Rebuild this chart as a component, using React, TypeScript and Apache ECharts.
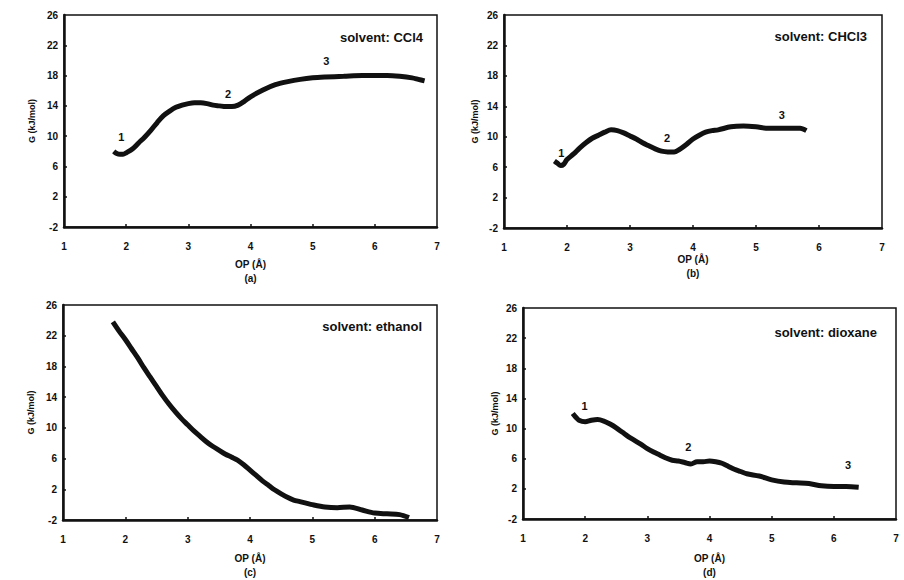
import React, { useEffect, useRef } from "react";
import * as echarts from "echarts";

// ---- data ----
const panelTitles = ["solvent: CCl4", "solvent: CHCl3", "solvent: ethanol", "solvent: dioxane"];
const panelTags = ["(a)", "(b)", "(c)", "(d)"];
const yTicks = [-2, 2, 6, 10, 14, 18, 22, 26];
const xTicks = [1, 2, 3, 4, 5, 6, 7];

const ccl4: [number, number][] = [
  [1.8, 8.0], [1.85, 7.7], [1.9, 7.6], [1.95, 7.6], [2.0, 7.8], [2.1, 8.3], [2.2, 9.1], [2.3, 9.9],
  [2.4, 10.8], [2.5, 11.8], [2.6, 12.7], [2.7, 13.3], [2.8, 13.8], [2.9, 14.1], [3.0, 14.3], [3.1, 14.4],
  [3.2, 14.4], [3.3, 14.3], [3.4, 14.1], [3.5, 14.0], [3.6, 13.9], [3.7, 13.9], [3.8, 14.1], [3.9, 14.6],
  [4.0, 15.2], [4.2, 16.1], [4.4, 16.8], [4.6, 17.2], [4.8, 17.5], [5.0, 17.7], [5.2, 17.8], [5.5, 17.9],
  [5.8, 18.0], [6.0, 18.0], [6.2, 18.0], [6.4, 17.9], [6.6, 17.7], [6.7, 17.5], [6.8, 17.3],
];
const chcl3: [number, number][] = [
  [1.8, 6.8], [1.85, 6.5], [1.9, 6.2], [1.95, 6.4], [2.0, 7.0], [2.1, 7.7], [2.2, 8.5], [2.3, 9.2],
  [2.4, 9.8], [2.5, 10.2], [2.6, 10.6], [2.7, 10.9], [2.8, 10.8], [2.9, 10.5], [3.0, 10.1], [3.1, 9.7],
  [3.2, 9.2], [3.3, 8.8], [3.4, 8.4], [3.5, 8.1], [3.6, 8.0], [3.7, 8.0], [3.8, 8.4], [3.9, 9.0],
  [4.0, 9.7], [4.1, 10.2], [4.2, 10.6], [4.3, 10.8], [4.4, 10.9], [4.6, 11.3], [4.8, 11.4], [5.0, 11.3],
  [5.2, 11.1], [5.4, 11.1], [5.6, 11.1], [5.7, 11.1], [5.8, 10.8],
];
const ethanol: [number, number][] = [
  [1.8, 23.8], [1.9, 22.6], [2.0, 21.5], [2.1, 20.3], [2.2, 19.1], [2.3, 17.8], [2.4, 16.6], [2.5, 15.4],
  [2.6, 14.2], [2.7, 13.1], [2.8, 12.1], [2.9, 11.2], [3.0, 10.4], [3.1, 9.6], [3.2, 8.9], [3.3, 8.2],
  [3.4, 7.6], [3.5, 7.1], [3.6, 6.6], [3.7, 6.2], [3.8, 5.8], [3.9, 5.2], [4.0, 4.5], [4.1, 3.8],
  [4.2, 3.1], [4.3, 2.5], [4.4, 1.9], [4.5, 1.4], [4.6, 0.95], [4.7, 0.6], [4.8, 0.4], [4.9, 0.2],
  [5.0, 0.0], [5.2, -0.3], [5.4, -0.4], [5.6, -0.3], [5.8, -0.7], [6.0, -1.1], [6.2, -1.2], [6.4, -1.3],
  [6.55, -1.7],
];
const dioxane: [number, number][] = [
  [1.8, 12.0], [1.85, 11.5], [1.9, 11.1], [2.0, 10.9], [2.1, 11.1], [2.2, 11.2], [2.3, 11.0], [2.4, 10.6],
  [2.5, 10.1], [2.6, 9.5], [2.7, 8.9], [2.8, 8.4], [2.9, 7.9], [3.0, 7.35], [3.1, 6.9], [3.2, 6.5],
  [3.3, 6.1], [3.4, 5.8], [3.5, 5.7], [3.6, 5.5], [3.7, 5.3], [3.8, 5.6], [3.9, 5.6], [4.0, 5.7],
  [4.1, 5.6], [4.2, 5.4], [4.3, 5.0], [4.4, 4.6], [4.5, 4.3], [4.6, 4.0], [4.8, 3.7], [5.0, 3.2],
  [5.2, 2.9], [5.4, 2.8], [5.6, 2.7], [5.8, 2.4], [6.0, 2.3], [6.2, 2.3], [6.4, 2.2],
];
const curves = [ccl4, chcl3, ethanol, dioxane];

// numbered markers (label, x, y) per panel; ethanol has none
const markerNames = ["1", "2", "3"];
const markersA: [number, number][] = [[1.92, 9.9], [3.64, 15.6], [5.22, 19.9]];
const markersB: [number, number][] = [[1.91, 7.9], [3.59, 9.8], [5.41, 12.8]];
const markersC: [number, number][] = [];
const markersD: [number, number][] = [[1.99, 13.0], [3.66, 7.5], [6.23, 5.2]];
const markers = [markersA, markersB, markersC, markersD];

// ---- layout ----
const grids = [
  { left: 64, top: 15, width: 373, height: 212 },
  { left: 504, top: 15, width: 378, height: 213 },
  { left: 63, top: 305, width: 374, height: 215 },
  { left: 523, top: 308, width: 373, height: 212 },
];
const titlePos = [
  { right: 481, top: 31 },
  { right: 37, top: 30 },
  { right: 482, top: 320 },
  { right: 27, top: 326 },
];
const nameGapX = [30, 24, 31, 32];
const nameGapY = [28, 25, 28, 24];

const FONT = "Liberation Sans, Arial, Helvetica, sans-serif";
const INK = "#111";

export default function App() {
  const ref = useRef<HTMLDivElement>(null);
  useEffect(() => {
    if (!ref.current) return;
    const chart = echarts.init(ref.current, null, { renderer: "svg" });
    const series: any[] = [];
    curves.forEach((c, i) => {
      series.push({
        type: "line",
        xAxisIndex: i,
        yAxisIndex: i,
        data: c,
        showSymbol: false,
        smooth: 0.3,
        lineStyle: { color: INK, width: 5 },
      });
      series.push({
        type: "scatter",
        xAxisIndex: i,
        yAxisIndex: i,
        symbolSize: 1,
        itemStyle: { color: "rgba(255,255,255,0)", opacity: 1 },
        data: markers[i].map((m, k) => ({ name: markerNames[k], value: m })),
        label: {
          show: true,
          position: "inside",
          formatter: "{b}",
          color: INK,
          textBorderWidth: 0,
          fontFamily: FONT,
          fontWeight: "bold",
          fontSize: 11,
        },
      });
    });
    const option: any = {
      animation: false,
      backgroundColor: "#fff",
      title: panelTitles.map((t, i) => ({
        text: t,
        right: titlePos[i].right,
        top: titlePos[i].top,
        padding: 0,
        textStyle: { fontFamily: FONT, fontWeight: "bold", fontSize: 13, color: INK },
      })),
      grid: grids.map((g) => ({
        ...g,
        show: true,
        borderColor: INK,
        borderWidth: 1.5,
        backgroundColor: "transparent",
      })),
      xAxis: grids.map((_, i) => ({
        type: "value",
        gridIndex: i,
        min: 1,
        max: 7,
        interval: 1,
        name: "OP (Å)\n" + panelTags[i],
        nameLocation: "middle",
        nameGap: nameGapX[i],
        nameTextStyle: { fontFamily: FONT, fontWeight: "bold", fontSize: 10, color: INK, lineHeight: 14 },
        axisLine: { show: true, onZero: false, lineStyle: { color: INK, width: 2.5 } },
        axisTick: { show: true, inside: true, length: 3, lineStyle: { color: INK, width: 1.5 }, customValues: xTicks.slice(1, -1) },
        axisLabel: { fontFamily: FONT, fontWeight: "bold", fontSize: 10, color: INK, margin: 14, customValues: xTicks },
        splitLine: { show: false },
      })),
      yAxis: grids.map((_, i) => ({
        type: "value",
        gridIndex: i,
        min: -2,
        max: 26,
        name: "G (kJ/mol)",
        nameLocation: "middle",
        nameGap: nameGapY[i],
        nameTextStyle: { fontFamily: FONT, fontWeight: "bold", fontSize: 9, color: INK },
        axisLine: { show: true, onZero: false, lineStyle: { color: INK, width: 2.5 } },
        axisTick: { show: true, inside: true, length: 3, lineStyle: { color: INK, width: 1.5 }, customValues: yTicks.slice(1, -1) },
        axisLabel: { fontFamily: FONT, fontWeight: "bold", fontSize: 10, color: INK, margin: 6, customValues: yTicks },
        splitLine: { show: false },
      })),
      series,
    };
    chart.setOption(option);
    return () => chart.dispose();
  }, []);
  return (
    <div
      ref={ref}
      style={{ position: "fixed", left: 0, top: 0, width: 904, height: 580, background: "#fff" }}
    />
  );
}
